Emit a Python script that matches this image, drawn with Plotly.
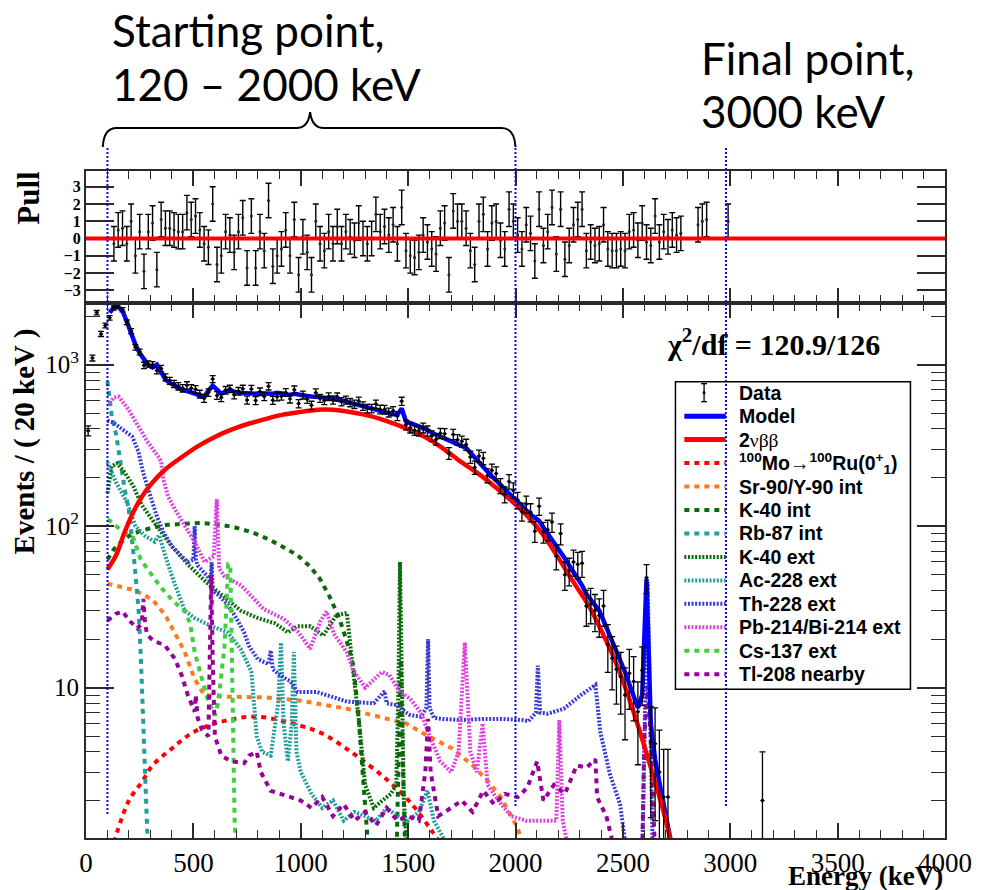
import plotly.graph_objects as go

# ---------------- measured spectrum, 20 keV bins ----------------
data_energy_keV = list(range(10, 2711, 20)) + [3150]
data_events = [
    390, 1100, 2100, 1550, 1750, 1950,
    2240, 2315, 2190, 1830, 1615, 1280, 1200, 990, 1010, 1000,
    920, 945, 835, 795, 760, 735, 715, 745, 715, 705,
    658, 620, 672, 815, 645, 625, 695, 708, 650, 685,
    708, 604, 707, 600, 680, 635, 735, 602, 633, 638,
    673, 614, 700, 574, 649, 611, 560, 671, 620, 600,
    634, 605, 632, 590, 604, 583, 569, 595, 555, 535,
    535, 570, 528, 527, 506, 518, 481, 594, 424, 406,
    393, 389, 406, 389, 362, 344, 376, 374, 283, 370,
    343, 335, 320, 268, 231, 272, 263, 206, 221, 212,
    178, 157, 189, 167, 145, 123, 137, 122, 93, 133,
    92, 95, 106, 65, 90, 50, 53, 60, 58, 59,
    32, 33, 30, 28, 32, 18.5, 15.2, 13, 11.7, 9,
    12.3, 10.9, 7.1, 12.8, 48, 4.6, 4.5, 3.0, 2.1, 2.1,
    2.0,
]

# ---------------- total fitted model ----------------
model_energy_keV = list(range(110, 2731, 20))
model_events = [
    2100,
    2260, 2280, 2150, 1850, 1560, 1330, 1180, 1080, 990, 960,
    1000, 900, 810, 770, 740, 720, 700, 690, 675, 660,
    640, 630, 690, 740, 700, 660, 680, 700, 680, 670,
    665, 665, 660, 660, 665, 660, 655, 660, 670, 660,
    655, 650, 660, 650, 645, 640, 635, 635, 630, 625,
    620, 615, 608, 600, 590, 580, 572, 565, 555, 545,
    535, 525, 515, 505, 500, 493, 490, 535, 445, 435,
    425, 412, 400, 395, 378, 368, 360, 350, 338, 328,
    318, 310, 305, 285, 265, 250, 232, 218, 203, 192,
    180, 168, 158, 150, 142, 133, 124, 118, 113, 108,
    98, 90, 83, 76, 70, 63, 57, 52, 47, 43,
    38, 35, 33, 30, 26, 22.5, 19.5, 17, 15, 12.5,
    10.5, 8.8, 7.5, 9, 47, 6, 3.6, 2.6, 1.9, 1.4,
    1.0,
]

# ---------------- fit components ----------------
bb2nu_energy_keV = [100, 140, 180, 220, 260, 300, 370, 450, 520, 600, 680, 760, 830, 900,
                    980, 1050, 1100, 1150, 1214, 1290, 1370, 1444, 1520, 1597, 1670, 1750,
                    1830, 1903, 1980, 2057, 2130, 2195, 2270, 2348, 2400, 2455, 2520, 2578,
                    2630, 2680, 2722, 2745]
bb2nu_events = [54, 66, 92, 122, 152, 180, 225, 270, 312, 357, 397, 432, 458, 485,
                505, 520, 527, 526, 513, 492, 462, 426, 388, 345, 298, 248,
                210, 176, 144, 115, 88, 65, 45, 31, 22.5, 15.7, 9.3, 5.4,
                3.2, 1.9, 1.15, 0.85]

mo_ru_energy_keV = [130, 200, 260, 310, 400, 500, 640, 800, 1000, 1100, 1190, 1275, 1400, 1510, 1610, 1680]
mo_ru_events = [1.1, 2.0, 2.6, 3.3, 4.2, 5.3, 6.2, 6.6, 5.8, 5.2, 4.4, 3.65, 2.7, 1.95, 1.3, 0.95]

sr90_energy_keV = [100, 230, 310, 370, 415, 460, 505, 550, 640, 840, 1000, 1215, 1365, 1490,
                   1595, 1705, 1800, 1870, 1935, 2010, 2040]
sr90_events = [44, 40, 35, 28, 21.6, 16.6, 11.4, 9.0, 8.8, 8.7, 8.3, 7.4, 6.6, 6.0,
               5.0, 4.2, 3.3, 2.65, 2.07, 1.35, 1.0]

k40_int_energy_keV = [100, 130, 160, 200, 250, 310, 380, 460, 530, 610, 690, 770, 850, 920,
                      985, 1045, 1090, 1135, 1180, 1215, 1245, 1270, 1290, 1305, 1320, 1445,
                      1458, 1466, 1474, 1488]
k40_int_events = [62, 72, 79, 87, 93, 98, 102, 104, 104.5, 103, 98.5, 92, 83, 74,
                  66, 56, 47, 36.5, 26.8, 19.2, 13.7, 6.4, 2.75, 1.4, 0.8, 0.8,
                  4, 15, 4, 0.8]

rb87_energy_keV = [100, 110, 120, 140, 160, 180, 200, 215, 225, 235, 245, 255, 265, 275, 285, 295]
rb87_events = [790, 600, 480, 370, 240, 170, 125, 85, 60, 43, 30, 16, 6, 2.4, 1.3, 0.9]

k40_ext_energy_keV = [100, 120, 145, 180, 220, 260, 330, 400, 480, 560, 660, 720, 800, 880,
                      940, 985, 1045, 1105, 1165, 1215, 1240, 1270, 1300, 1340, 1380, 1420,
                      1445, 1455, 1462, 1470, 1480, 1500]
k40_ext_events = [160, 235, 245, 215, 177, 135, 100, 75, 57, 45, 35, 30, 27, 25,
                  22, 24, 24, 21, 28, 29, 14, 6.4, 2.5, 1.8, 2.0, 2.2,
                  2.5, 10, 60, 10, 2, 0.8]

ac228_energy_keV = [100, 110, 140, 190, 230, 275, 320, 340, 370, 410, 460, 505, 585, 660,
                    720, 770, 795, 820, 860, 895, 908, 920, 940, 958, 968, 980, 1000, 1050,
                    1100, 1150, 1200, 1250, 1300, 1350, 1400, 1450, 1500, 1550, 1590, 1620,
                    1660, 1700]
ac228_events = [250, 230, 187, 141, 100, 87, 80, 88, 65, 45, 30, 27, 24, 22,
                17.4, 12.6, 5, 4, 3.8, 8, 19, 6, 3.5, 6, 16.6, 4, 3, 2.2,
                1.8, 2.0, 1.5, 1.7, 1.6, 1.5, 1.8, 1.6, 1.5, 1.7, 2.3, 1.5,
                1.2, 0.9]

th228_energy_keV = [100, 125, 170, 215, 245, 262, 285, 308, 330, 360, 400, 445, 475, 500,
                    506, 512, 520, 565, 580, 585, 590, 611, 657, 700, 736, 760, 800, 850,
                    860, 870, 900, 950, 985, 1075, 1215, 1340, 1390, 1400, 1445, 1505, 1560,
                    1585, 1593, 1600, 1620, 1660, 1750, 1845, 1935, 2030, 2060, 2095, 2104,
                    2115, 2150, 2225, 2305, 2372, 2395, 2440, 2487, 2515, 2590, 2605, 2615,
                    2625, 2640]
th228_events = [450, 440, 397, 359, 287, 225, 177, 141, 115, 92, 75, 65, 60, 62,
                100, 62, 57, 49, 45, 60, 40, 38, 33, 27, 22, 18, 15, 14,
                17, 13, 12, 11, 9.4, 9.4, 8.2, 8.0, 9.5, 8.0, 7.8, 6.8, 6.6,
                7.5, 20, 7.5, 6.5, 6.4, 6.3, 6.4, 6.4, 6.3, 6.2, 7, 13.7,
                7, 6.9, 7.4, 9.0, 10.4, 5.3, 2.9, 1.9, 1.0, 0.8, 10, 45,
                10, 0.8]

pb214_energy_keV = [110, 130, 152, 198, 244, 285, 340, 350, 360, 382, 414, 460, 506, 552,
                    595, 609, 620, 644, 722, 795, 828, 920, 990, 1044, 1090, 1120, 1154,
                    1214, 1246, 1300, 1340, 1378, 1412, 1460, 1510, 1560, 1600, 1650, 1700,
                    1735, 1764, 1790, 1820, 1847, 1870, 1920, 1980, 2050, 2100, 2190, 2204,
                    2220, 2260]
pb214_events = [580, 625, 634, 527, 415, 335, 266, 250, 195, 153, 127, 100, 80, 60,
                65, 147, 55, 49, 43, 34, 30.6, 26.7, 22, 17.4, 25.6, 29.6, 21.6,
                16.6, 12.7, 10, 11.3, 12.5, 12, 9.5, 8.5, 7, 5, 3.5, 3,
                4, 19, 4, 3, 6, 2.5, 2, 1.6, 1.5, 1.5, 1.5, 6.3,
                1.5, 0.8]

cs137_energy_keV = [100, 115, 160, 220, 253, 285, 354, 400, 460, 485, 506, 538, 565, 600,
                    615, 630, 645, 655, 662, 672, 682, 692, 702]
cs137_events = [110, 107, 95, 85, 63, 54.5, 41, 35, 29.6, 25, 16.6, 11.4, 8.6, 6.7,
                8, 12, 18, 35, 58, 58, 10, 1.5, 0.8]

tl208_energy_keV = [100, 138, 170, 207, 239, 260, 267, 275, 285, 313, 368, 414, 446, 474,
                    506, 511, 520, 540, 570, 578, 583, 590, 600, 630, 676, 736, 760, 795,
                    814, 860, 900, 952, 1000, 1050, 1100, 1150, 1200, 1250, 1300, 1350,
                    1400, 1450, 1500, 1550, 1580, 1593, 1605, 1640, 1700, 1750, 1800, 1850,
                    1900, 1950, 2010, 2055, 2101, 2130, 2179, 2230, 2285, 2331, 2372, 2380,
                    2423, 2460, 2590, 2600, 2615, 2630, 2650]
tl208_events = [26, 28.6, 29.6, 25.6, 23.3, 25, 35.5, 25, 21.2, 19.6, 18.2, 15.1, 11.9, 9.0,
                7.1, 9, 6.5, 5.5, 5, 20, 50, 15, 5, 3.8, 3.5, 3.4, 3.8, 4.0,
                3.0, 2.3, 2.2, 2.1, 2.0, 1.8, 2.1, 1.6, 1.9, 1.5, 1.7, 1.4,
                1.8, 1.5, 1.6, 1.5, 3, 6.4, 3, 1.6, 1.8, 2.0, 1.7, 2.3,
                1.9, 2.2, 2.1, 2.4, 3.5, 2.0, 2.5, 2.2, 3.3, 3.2, 3.6, 2.1,
                1.6, 1.0, 0.9, 5, 10.3, 5, 0.9]

# ---------------- pulls ----------------
pull_energy_keV = list(range(130, 2771, 20)) + [2850, 2870, 2890, 2990]
pull_values = [
    -0.3, 0.5, 0.6, -0.3, 1.0, -1.0, 0.4, -1.9, 0.4, 0.9, -1.8, 1.1, 0.6, 0.6, 0.5,
    0.4, 0.4, 1.5, 1.1, 1.3, 0.5, -0.3, -0.5, 2.0, -1.5,
    -1.0, 0.4, 0.2, -0.8, 0.4, 1.2, -1.7, 1.3, -1.7, 0.4,
    -0.7, 2.2, -1.6, -1.0, -0.6, 0.5, -1.0, 1.1, -2.1, 0.1,
    -0.8, -2.1, 1.0, -0.3, -0.7, 0.4, -0.3, 0.7,
    -0.3, 0.4, 0.1, -0.1, 0.9, 0.0, -0.3, 0.0, 1.4, 0.4,
    0.7, 0.2, 0.8, -0.3, 1.8, -0.7, -1.0, -1.1, -0.8, 0.2,
    -0.2, -0.6, -0.9, 0.6, 0.9, -2.1, 1.6, 1.0, 1.0, 0.6,
    -0.7, -1.5, 1.0, 1.4, -0.6, 0.9,
    1.0, -0.1, -0.6, 1.7, 1.0, 0.2, -0.6, 0.8, 0.3, -1.3,
    1.7, -0.4, 0.4, 1.8, -0.9, 1.7, -1.2, -0.4, 0.8, 1.1,
    1.7, -0.7, -0.2, -0.4, -0.3, 0.8, -0.6, -0.7, -0.7, -0.6,
    -0.7, 0.4, 0.5, -0.1, 0.9, -0.2, -0.4, 1.3, -0.2, 0.4,
    0.1, 0.5, 0.2, 0.3,
    0.8, 1.0, 1.1, 1.0,
]

chi2_text = "χ<sup>2</sup>/df = 120.9/126"
fit_window_keV = [100, 2000, 2980]

# ---------------- styling ----------------
SERIF = "Liberation Serif"
SANS = "Liberation Sans"
DASHED = "5px,5px"
DOTTED = "2px,1.6px"

C_RED = "#ff0000"
C_BLUE = "#0000ff"
C_ORANGE = "#ff7a1c"
C_DKGREEN = "#0b6b0b"
C_TEAL = "#239c9c"
C_THBLUE = "#3a3ad2"
C_MAGENTA = "#e040e0"
C_LIME = "#3fcf3f"
C_PURPLE = "#990099"

components = [
    ("<sup>100</sup>Mo→<sup>100</sup>Ru(0<sup>+</sup><sub>1</sub>)", mo_ru_energy_keV, mo_ru_events, C_RED, DASHED, "spline"),
    ("Sr-90/Y-90 int", sr90_energy_keV, sr90_events, C_ORANGE, DASHED, "linear"),
    ("K-40 int", k40_int_energy_keV, k40_int_events, C_DKGREEN, DASHED, "linear"),
    ("Rb-87 int", rb87_energy_keV, rb87_events, C_TEAL, DASHED, "linear"),
    ("K-40 ext", k40_ext_energy_keV, k40_ext_events, C_DKGREEN, DOTTED, "linear"),
    ("Ac-228 ext", ac228_energy_keV, ac228_events, C_TEAL, DOTTED, "linear"),
    ("Th-228 ext", th228_energy_keV, th228_events, C_THBLUE, DOTTED, "linear"),
    ("Pb-214/Bi-214 ext", pb214_energy_keV, pb214_events, C_MAGENTA, DOTTED, "linear"),
    ("Cs-137 ext", cs137_energy_keV, cs137_events, C_LIME, DASHED, "linear"),
    ("Tl-208 nearby", tl208_energy_keV, tl208_events, C_PURPLE, DASHED, "linear"),
]

# plot frame in page pixels, used to place overlay items
L, R, T, B = 86, 956, 171, 839


def px(x):
    return (x - L) / (R - L)


def py(y):
    return (B - y) / (B - T)


SPLIT = py(303)

fig = go.Figure()

for name, e, v, color, dash, shape in components:
    fig.add_trace(go.Scatter(
        x=e, y=v, mode="lines", name=name,
        line=dict(color=color, width=4, dash=dash, shape=shape),
        xaxis="x", yaxis="y", showlegend=False, hoverinfo="skip",
    ))

fig.add_trace(go.Scatter(
    x=model_energy_keV, y=model_events, mode="lines", name="Model",
    line=dict(color=C_BLUE, width=4.5), xaxis="x", yaxis="y", showlegend=False,
))
fig.add_trace(go.Scatter(
    x=bb2nu_energy_keV, y=bb2nu_events, mode="lines", name="2νββ",
    line=dict(color=C_RED, width=4.5, shape="spline", smoothing=1.0),
    xaxis="x", yaxis="y", showlegend=False,
))

# Poisson-like error bars for the measured spectrum
err_up = [(2 * v) ** 0.5 for v in data_events]
err_dn = [min((2 * v) ** 0.5, 0.99 * v) for v in data_events]
fig.add_trace(go.Scatter(
    x=data_energy_keV, y=data_events, mode="markers", name="Data",
    marker=dict(color="black", size=3.5),
    error_y=dict(type="data", array=err_up, arrayminus=err_dn, color="black", thickness=1.3, width=3),
    error_x=dict(type="constant", value=10, color="black", thickness=1.0, width=0),
    xaxis="x", yaxis="y", showlegend=False,
))

fig.add_trace(go.Scatter(
    x=pull_energy_keV, y=pull_values, mode="markers", name="Pull",
    marker=dict(color="#222222", size=3),
    error_y=dict(type="constant", value=1, color="black", thickness=1.4, width=3),
    xaxis="x2", yaxis="y2", showlegend=False,
))

axis_common = dict(
    showline=True, linecolor="#2a2a2a", linewidth=2, mirror="ticks",
    ticks="inside", tickcolor="#2a2a2a", showgrid=False, zeroline=False,
)

minor_log = [m * 10 ** k for k in range(0, 4) for m in range(2, 10) if m * 10 ** k < 2400]

fig.update_layout(
    width=984, height=890,
    margin=dict(l=L, r=984 - R, t=T, b=890 - B),
    paper_bgcolor="white", plot_bgcolor="white",
    showlegend=False,
    xaxis=dict(
        domain=[0, 1], anchor="y", range=[0, 4000], dtick=500, tick0=0,
        ticklen=15, tickwidth=1.5,
        minor=dict(ticks="inside", ticklen=8, dtick=100, tickwidth=1.2, tickcolor="#2a2a2a"),
        tickfont=dict(family=SERIF, size=27, color="black"),
        **axis_common,
    ),
    yaxis=dict(
        domain=[0, SPLIT], anchor="x", type="log", range=[0.069, 3.383],
        tickvals=[10, 100, 1000], ticktext=["10", "10<sup>2</sup>", "10<sup>3</sup>"],
        ticklen=28, tickwidth=1.5,
        minor=dict(ticks="inside", ticklen=14, tickvals=minor_log, tickwidth=1.2, tickcolor="#2a2a2a"),
        tickfont=dict(family=SERIF, size=25, color="black"),
        **axis_common,
    ),
    xaxis2=dict(
        domain=[0, 1], anchor="y2", matches="x", range=[0, 4000], dtick=500, tick0=0,
        showticklabels=False, ticklen=15, tickwidth=1.5,
        minor=dict(ticks="inside", ticklen=8, dtick=100, tickwidth=1.2, tickcolor="#2a2a2a"),
        **axis_common,
    ),
    yaxis2=dict(
        domain=[SPLIT, 1], anchor="x2", range=[-3.72, 3.91],
        tickvals=[-3, -2, -1, 0, 1, 2, 3], ticktext=["−3", "−2", "−1", "0", "1", "2", "3"],
        ticklen=28, tickwidth=1.5,
        tickfont=dict(family=SERIF, size=16, color="black", weight="bold"),
        **axis_common,
    ),
)

shapes = []
# zero line of the pull panel
shapes.append(dict(type="line", xref="x2", yref="y2", x0=0, x1=4000, y0=0, y1=0,
                   line=dict(color=C_RED, width=4)))
# fit-window markers
for e, ybot in zip(fit_window_keV, [817, 807, 808]):
    shapes.append(dict(type="line", xref="x", yref="paper", x0=e, x1=e, y0=py(148), y1=py(ybot),
                       line=dict(color="#0a0ae0", width=2, dash="2px,2px")))
# curly brace over the starting-point range
bx0, bx1, bmid, ytip, yh, yend = 103, 521, 313, 112, 128, 147
brace = (f"M {px(bx0)},{py(yend)} Q {px(bx0 + 1)},{py(yh)} {px(bx0 + 14)},{py(yh)} "
         f"L {px(bmid - 14)},{py(yh)} Q {px(bmid - 2)},{py(yh)} {px(bmid)},{py(ytip)} "
         f"Q {px(bmid + 2)},{py(yh)} {px(bmid + 14)},{py(yh)} "
         f"L {px(bx1 - 14)},{py(yh)} Q {px(bx1 - 1)},{py(yh)} {px(bx1)},{py(yend)}")
shapes.append(dict(type="path", xref="paper", yref="paper", path=brace,
                   line=dict(color="black", width=2)))

# legend frame and samples
shapes.append(dict(type="rect", xref="paper", yref="paper", x0=px(683), x1=px(921),
                   y0=py(690), y1=py(382), line=dict(color="black", width=1.5)))
row0, step = 393, 23.5
# data entry glyph
shapes += [
    dict(type="line", xref="paper", yref="paper", x0=px(712), x1=px(712), y0=py(384), y1=py(402),
         line=dict(color="black", width=1.3)),
    dict(type="line", xref="paper", yref="paper", x0=px(709), x1=px(715), y0=py(384), y1=py(384),
         line=dict(color="black", width=1.3)),
    dict(type="line", xref="paper", yref="paper", x0=px(709), x1=px(715), y0=py(402), y1=py(402),
         line=dict(color="black", width=1.3)),
    dict(type="circle", xref="paper", yref="paper", x0=px(710.5), x1=px(713.5), y0=py(394.5),
         y1=py(391.5), fillcolor="black", line=dict(width=0)),
]
legend_rows = [("Model", C_BLUE, "solid", 5), ("2νββ", C_RED, "solid", 5)] + \
              [(c[0], c[3], c[4], 4) for c in components]
for i, (name, color, dash, w) in enumerate(legend_rows, start=1):
    yy = row0 + step * i
    shapes.append(dict(type="line", xref="paper", yref="paper", x0=px(692), x1=px(734),
                       y0=py(yy), y1=py(yy), line=dict(color=color, width=w, dash=dash)))
fig.update_layout(shapes=shapes)

annotations = []
legend_labels = ["Data", "Model",
                 "2<span style='font-family:Liberation Serif;font-weight:normal'>νββ</span>"] + \
                [c[0] for c in components]
for i, lab in enumerate(legend_labels):
    annotations.append(dict(xref="paper", yref="paper", x=px(745), y=py(row0 + step * i),
                            xanchor="left", yanchor="middle", showarrow=False,
                            text=f"<b>{lab}</b>", font=dict(family=SANS, size=19.5, color="black")))

TOP_FONT = dict(family="Lato", size=44, color="black")
annotations += [
    dict(xref="paper", yref="paper", x=px(672), y=py(342), xanchor="left", yanchor="middle",
         showarrow=False, text=f"<b>{chi2_text}</b>", font=dict(family=SERIF, size=30, color="black")),
    dict(xref="paper", yref="paper", x=px(24), y=py(442), xanchor="center", yanchor="middle",
         textangle=-90, showarrow=False, text="<b>Events / ( 20 keV )</b>",
         font=dict(family=SERIF, size=29, color="black")),
    dict(xref="paper", yref="paper", x=px(28), y=py(198), xanchor="center", yanchor="middle",
         textangle=-90, showarrow=False, text="<b>Pull</b>",
         font=dict(family=SERIF, size=31, color="black")),
    dict(xref="paper", yref="paper", x=px(956), y=py(877), xanchor="right", yanchor="middle",
         showarrow=False, text="<b>Energy (keV)</b>",
         font=dict(family=SERIF, size=27, color="black")),
    dict(xref="paper", yref="paper", x=px(110), y=py(30), xanchor="left", yanchor="middle",
         showarrow=False, text="Starting point,", font=TOP_FONT),
    dict(xref="paper", yref="paper", x=px(110), y=py(84), xanchor="left", yanchor="middle",
         showarrow=False, text="120 – 2000 keV", font=TOP_FONT),
    dict(xref="paper", yref="paper", x=px(707), y=py(58), xanchor="left", yanchor="middle",
         showarrow=False, text="Final point,", font=TOP_FONT),
    dict(xref="paper", yref="paper", x=px(707), y=py(111), xanchor="left", yanchor="middle",
         showarrow=False, text="3000 keV", font=TOP_FONT),
]
fig.update_layout(annotations=annotations)

fig.write_html("out.html")
